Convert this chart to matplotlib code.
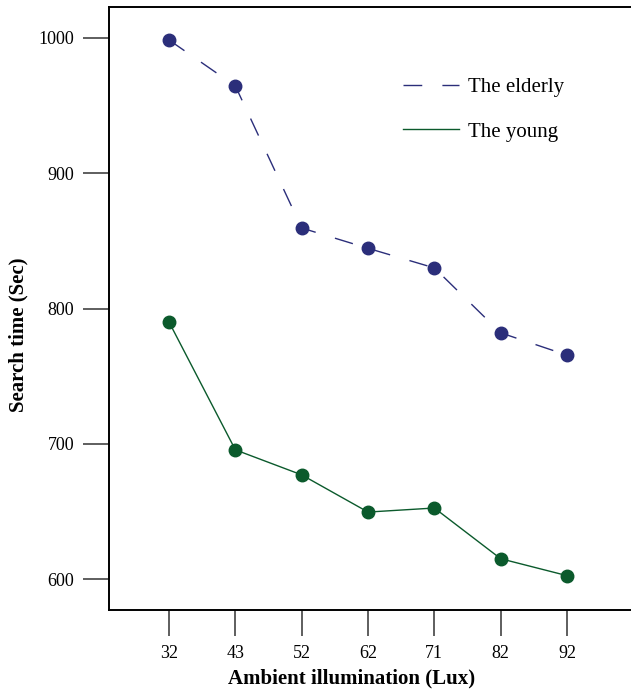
import matplotlib
matplotlib.use("Agg")
import matplotlib.pyplot as plt

lux = ["32", "43", "52", "62", "71", "82", "92"]
elderly = [998.5, 964.5, 859.5, 844.5, 830, 782, 765.5]
young = [790, 695.5, 677, 649.5, 652.5, 615, 602.5]

plt.rcParams['font.family'] = ['Liberation Serif', 'DejaVu Serif']

fig = plt.figure(figsize=(6.31, 6.92), dpi=100)
# right spine sits just past the canvas edge, like the reference
ax = fig.add_axes([109/631, 82/692, 531/631, 603/692])

xs = range(len(lux))
ax.plot(xs, elderly, color="#2b2e7a", lw=1.0, dashes=(13.5, 14.5),
        marker="o", ms=9, label="The elderly")
ax.plot(xs, young, color="#0b5a2c", lw=1.0,
        marker="o", ms=9, label="The young")

ax.set_xlim(-0.905, 7.10)
ax.set_ylim(577.1, 1022.9)
ax.set_xticks(list(xs))
ax.set_xticklabels(lux)
ax.set_yticks([600, 700, 800, 900, 1000])
ax.tick_params(direction="out", length=19, width=1.1, labelsize=13, pad=6,
               color="#333333")
for s in ax.spines.values():
    s.set_linewidth(1.4)

ax.set_xlabel("Ambient illumination (Lux)", fontsize=15, fontweight="bold")
ax.set_ylabel("Search time (Sec)", fontsize=15, fontweight="bold")
ax.xaxis.set_label_coords(0.456, -0.097)
ax.yaxis.set_label_coords(-0.151, 0.456)

leg = ax.legend(loc="upper left", bbox_to_anchor=(0.519, 0.914), frameon=False,
                fontsize=15, handlelength=2.65, handletextpad=0.45,
                labelspacing=1.2)
for h in leg.legend_handles:
    h.set_marker("")

fig.savefig("out.png", dpi=100)
